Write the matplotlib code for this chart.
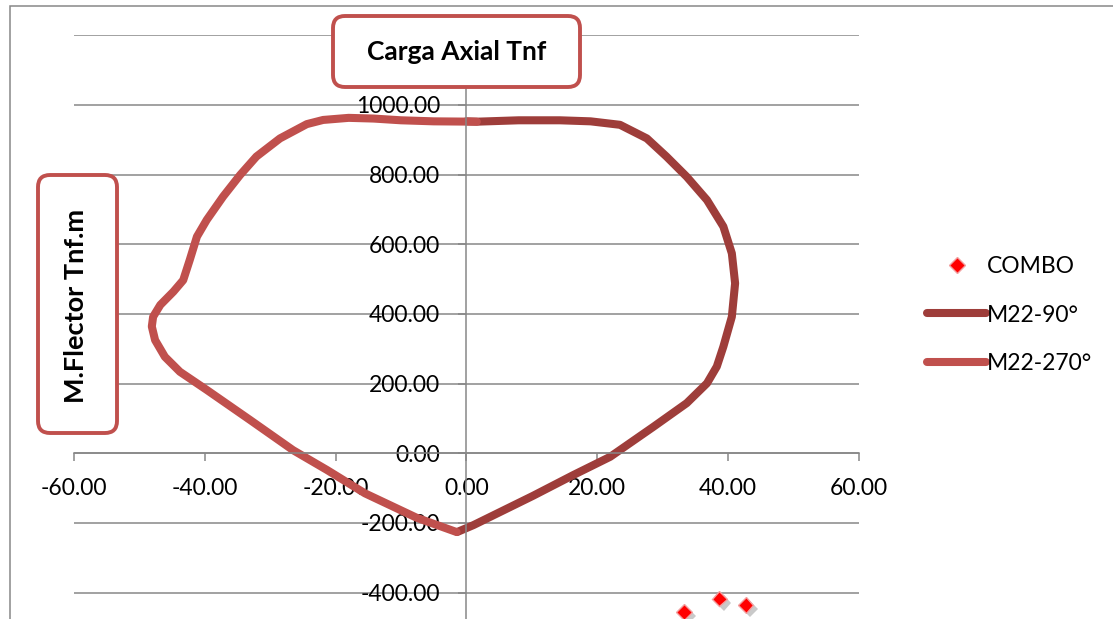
import matplotlib
matplotlib.use('Agg')
import matplotlib.pyplot as plt
import matplotlib.patheffects as pe
from matplotlib.patches import FancyBboxPatch, Rectangle
from matplotlib.lines import Line2D
from matplotlib.ticker import FuncFormatter, FormatStrFormatter

plt.rcParams['font.family'] = ['Lato', 'DejaVu Sans']

# puntos de las combinaciones de carga
combo_x = [33.3, 38.7, 42.7]
combo_y = [-456, -417, -436]

# diagrama de interaccion M22-90
m90_x = [0.0, 1.6, 8.0, 14.3, 19.0, 23.5, 27.6, 30.6, 33.7, 36.8, 39.3, 40.6, 41.1,
         40.6, 39.3, 38.3, 36.8, 33.7, 28.6, 22.0, 16.4, 10.2, 1.1, -1.4]
m90_y = [953, 952, 956, 956, 953, 943, 904, 852, 794, 727, 651, 574, 488,
         392, 306, 249, 201, 144, 76, -10, -62, -122, -206, -226]

# diagrama de interaccion M22-270
m270_x = [1.6, -5.0, -10.0, -14.2, -18.0, -21.9, -24.4, -28.5, -32.1, -34.6, -37.2, -39.7,
          -41.2, -42.3, -43.3, -44.8, -46.8, -47.9, -48.1, -47.6, -46.1, -43.8, -39.7,
          -33.1, -26.5, -21.3, -15.5, -7.6, -1.5]
m270_y = [952, 953, 956, 961, 963, 957, 945, 904, 852, 799, 737, 670,
          622, 555, 497, 464, 426, 392, 364, 325, 277, 234, 182,
          96, 9, -48, -115, -185, -226]

x_ticks = [-60, -40, -20, 0, 20, 40, 60]
y_ticks = [-400, -200, 0, 200, 400, 600, 800, 1000, 1200]

dark = '#9E3D3A'
light = '#C0504D'
grey = '#878787'
fs = 16.5

fig = plt.figure(figsize=(11.13, 6.19), dpi=100)

# borde exterior del grafico
fig.add_artist(Rectangle((10 / 1113, -0.1), 2, 613 / 619 + 0.1, transform=fig.transFigure,
                         fill=False, edgecolor=grey, lw=1.1))

ax = fig.add_axes([74 / 1113, 0, 784.7 / 1113, (619 - 35.3) / 619])
ax.set_xlim(-60, 60)
ax.set_ylim(-475.7, 1200)
ax.patch.set_alpha(0)

for s in ['top', 'right']:
    ax.spines[s].set_visible(False)
ax.spines['left'].set_position(('data', 0))
ax.spines['bottom'].set_position(('data', 0))
for s in ['left', 'bottom']:
    ax.spines[s].set_color(grey)
    ax.spines[s].set_linewidth(1.1)

ax.set_xticks(x_ticks)
ax.set_yticks(y_ticks)
ax.xaxis.set_major_formatter(FormatStrFormatter('%.2f'))
# la etiqueta 1200 queda tapada por el titulo
ax.yaxis.set_major_formatter(FuncFormatter(lambda v, p: '' if v > 1100 else '%.2f' % v))
ax.tick_params(axis='both', direction='out', length=6, width=1.1, color=grey, labelsize=fs)
ax.tick_params(axis='y', pad=13)
ax.tick_params(axis='x', pad=12)
ax.yaxis.grid(True, color=grey, lw=1.1)
ax.set_axisbelow(True)

ax.plot(combo_x, combo_y, linestyle='none', marker='D', ms=8, color='#FF0000',
        mec='#F2A0A0', mew=1, label='COMBO', clip_on=False,
        path_effects=[pe.SimplePatchShadow(offset=(3, -3), shadow_rgbFace='0.3', alpha=0.3), pe.Normal()])
ax.plot(m90_x, m90_y, color=dark, lw=5.8, solid_capstyle='round', solid_joinstyle='round', label='M22-90°')
ax.plot(m270_x, m270_y, color=light, lw=5.8, solid_capstyle='round', solid_joinstyle='round', label='M22-270°')

handles = [Line2D([], [], linestyle='none', marker='D', ms=8, color='#FF0000', mec='#F2A0A0', mew=1),
           Line2D([], [], color=dark, lw=5.8, solid_capstyle='round'),
           Line2D([], [], color=light, lw=5.8, solid_capstyle='round')]
fig.legend(handles, ['COMBO', 'M22-90°', 'M22-270°'], loc='upper left',
           bbox_to_anchor=(927 / 1113, (619 - 256) / 619), frameon=False, fontsize=fs,
           borderpad=0, borderaxespad=0, handlelength=2.58, handletextpad=0.05, labelspacing=1.2)

# cajas de los titulos
fig.add_artist(FancyBboxPatch((3.33, 5.32), 2.47, 0.71, boxstyle='round,pad=0,rounding_size=0.12',
                              transform=fig.dpi_scale_trans, facecolor='white', edgecolor=light, lw=2.8))
fig.text(456.5 / 1113, (619 - 51.5) / 619, 'Carga Axial Tnf', ha='center', va='center',
         fontsize=19, fontweight='bold')

fig.add_artist(FancyBboxPatch((0.38, 1.86), 0.79, 2.58, boxstyle='round,pad=0,rounding_size=0.12',
                              transform=fig.dpi_scale_trans, facecolor='white', edgecolor=light, lw=2.8))
fig.text(76 / 1113, (619 - 305.5) / 619, 'M.Flector Tnf.m', ha='center', va='center',
         rotation=90, fontsize=19.5, fontweight='bold')

fig.savefig('out.png', dpi=100)
